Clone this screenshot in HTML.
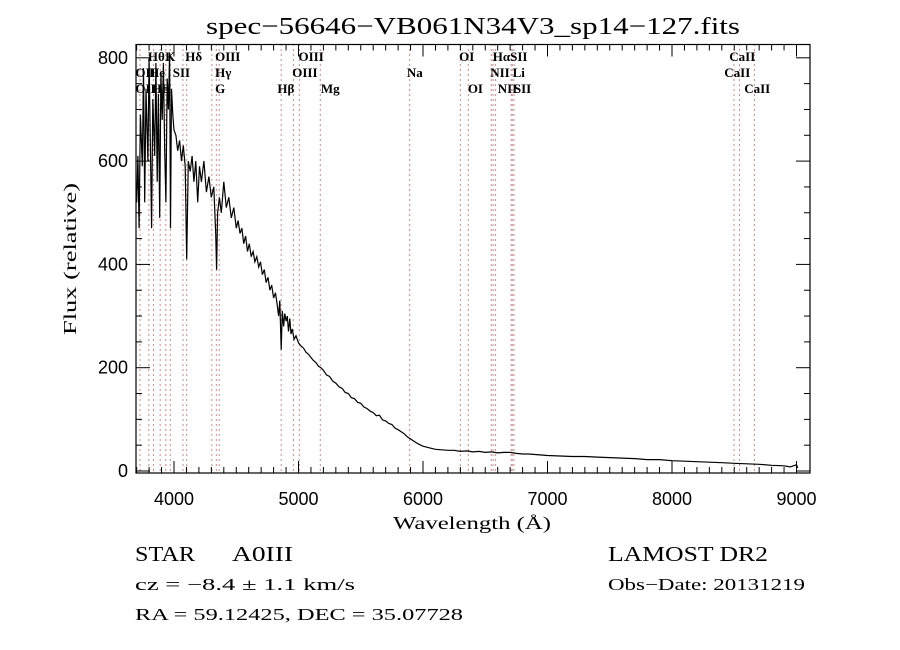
<!DOCTYPE html>
<html><head><meta charset="utf-8"><style>
body{margin:0;background:#fff;}
svg{display:block;}
text{fill:#000;}
.ser{font-family:"Liberation Serif",serif;}
.san{font-family:"Liberation Sans",sans-serif;}
</style></head><body>
<svg id="chart" width="900" height="650" viewBox="0 0 900 650">
<rect width="900" height="650" fill="#fff"/>
<text x="206" y="34" textLength="534" lengthAdjust="spacingAndGlyphs" class="ser" font-size="24">spec−56646−VB061N34V3_sp14−127.fits</text>
<g id="lines"></g>
<g id="labels" class="ser" font-size="13" font-weight="bold"></g>
<g id="ticks"></g>
<path id="spec" fill="none" stroke="#000" stroke-width="1.2"/>
<rect x="136" y="44.5" width="674" height="428.5" fill="none" stroke="#000" stroke-width="1.2"/>
<text x="393" y="529" textLength="158" lengthAdjust="spacingAndGlyphs" class="ser" font-size="18">Wavelength (Å)</text>
<text transform="translate(76,335) rotate(-90)" textLength="152" lengthAdjust="spacingAndGlyphs" class="ser" font-size="18">Flux (relative)</text>
<text x="135" y="561" textLength="60" lengthAdjust="spacingAndGlyphs" class="ser" font-size="21">STAR</text>
<text x="232" y="561" textLength="61" lengthAdjust="spacingAndGlyphs" class="ser" font-size="21">A0III</text>
<text x="135" y="590" textLength="220" lengthAdjust="spacingAndGlyphs" class="ser" font-size="17">cz = −8.4 ± 1.1 km/s</text>
<text x="135" y="620" textLength="328" lengthAdjust="spacingAndGlyphs" class="ser" font-size="17">RA =  59.12425, DEC =  35.07728</text>
<text x="608" y="561" textLength="160" lengthAdjust="spacingAndGlyphs" class="ser" font-size="21">LAMOST DR2</text>
<text x="608" y="590" textLength="197" lengthAdjust="spacingAndGlyphs" class="ser" font-size="17">Obs−Date: 20131219</text>
</svg>
<script>
const wave=[3700,3710,3720,3730,3745,3755,3765,3775,3790,3800,3810,3820,3830,3845,3855,3865,3875,3885,3895,3905,3915,3925,3935,3945,3955,3965,3972,3980,3990,4000,4015,4030,4045,4060,4075,4090,4102,4115,4130,4145,4160,4175,4190,4205,4220,4240,4260,4280,4300,4320,4335,4342,4350,4365,4380,4400,4420,4440,4460,4480,4500,4515,4530,4545,4560,4575,4590,4605,4620,4635,4650,4665,4680,4695,4710,4725,4740,4755,4770,4785,4800,4815,4830,4840,4850,4861,4870,4880,4890,4900,4910,4920,4930,4940,4950,4965,4980,5000,5020,5040,5060,5080,5100,5120,5140,5160,5180,5200,5225,5250,5275,5300,5325,5350,5375,5400,5425,5450,5475,5500,5525,5550,5575,5600,5625,5650,5675,5700,5725,5750,5775,5800,5825,5850,5875,5900,5925,5950,5975,6000,6050,6100,6150,6200,6250,6300,6350,6400,6450,6500,6550,6600,6650,6700,6750,6800,6850,6900,6950,7000,7100,7200,7300,7400,7500,7600,7700,7800,7900,8000,8100,8200,8300,8400,8500,8600,8700,8800,8900,8950,9000,9010];
const flux=[520,610,470,690,590,780,520,740,600,800,640,470,720,610,790,560,730,490,770,680,790,620,520,760,700,810,470,740,690,660,650,620,640,600,630,590,410,600,580,610,560,600,520,590,560,600,540,570,530,550,460,390,500,530,500,560,510,530,490,510,470,485,460,470,440,455,425,440,415,425,405,415,395,405,380,390,365,375,350,360,335,345,320,300,330,235,310,280,305,290,300,270,295,265,275,255,262,248,242,238,230,226,220,214,210,203,200,195,186,183,174,170,163,160,152,150,142,140,133,131,124,121,116,113,107,108,99,97,92,90,83,80,76,72,66,62,58,54,51,48,45,42,41,40,40,38,39,37,38,36,37,35,36,36,34,33,33,32,31,30,29,28,28,27,26,25,24,22,22,20,19,18,17,16,15,14,13,11,10,8,12,6];
const lineWaves=[3727,3798,3835,3889,3934,3970,4072,4102,4304,4340,4363,4861,4959,5007,5175,5893,6300,6364,6548,6563,6583,6708,6717,6731,8498,8542,8662];
const labelText=["Hθ","K","Hδ","OIII","OIII","OI","Hα","SII","CaII","OII","He","SII","Hγ","OIII","Na","NII","Li","CaII","OII","Hε","H","G","Hβ","Mg","OI","NII","SII","CaII"];
const labelWave=[3790,3930,4090,4330,5000,6290,6560,6700,8460,3690,3800,3990,4330,4950,5870,6540,6720,8420,3690,3820,3900,4330,4830,5180,6360,6600,6730,8580];
const labelRow=[0,0,0,0,0,0,0,0,0,1,1,1,1,1,1,1,1,1,2,2,2,2,2,2,2,2,2,2];
const xTicks=[4000,5000,6000,7000,8000,9000];
const yTicks=[0,200,400,600,800];
const X0=136,X1=810,Y0=44.5,Y1=473;
const xs=w=>174+(w-4000)*0.1245;
const ys=f=>471-f*0.5165;
const NS="http://www.w3.org/2000/svg";
function mk(t,a,p){const e=document.createElementNS(NS,t);for(const k in a)e.setAttribute(k,a[k]);p.appendChild(e);return e;}
let d="";wave.forEach((w,i)=>{d+=(i?"L":"M")+xs(w).toFixed(1)+" "+ys(flux[i]).toFixed(1);});
document.getElementById("spec").setAttribute("d",d);
const lg=document.getElementById("lines");
lineWaves.forEach(w=>{const l=mk("line",{x1:xs(w),x2:xs(w),y1:Y0,y2:Y1,stroke:"#8b1a1a","stroke-width":1,"stroke-dasharray":"1 4"},lg);

});
const lb=document.getElementById("labels");
labelText.forEach((t,i)=>{const e=mk("text",{x:xs(labelWave[i]),y:61+labelRow[i]*16},lb);e.textContent=t;

});
const tg=document.getElementById("ticks");
for(let w=3700;w<=9000;w+=100){const x=xs(w);const maj=w%1000===0;const L=maj?12:6;
mk("line",{x1:x,x2:x,y1:Y1,y2:Y1-L,stroke:"#000"},tg);mk("line",{x1:x,x2:x,y1:Y0,y2:Y0+L,stroke:"#000"},tg);}
xTicks.forEach(w=>{const e=mk("text",{x:xs(w),y:505,"text-anchor":"middle","font-size":"18","font-family":"Liberation Sans, sans-serif"},tg);e.textContent=w;

});
for(let f=0;f<=800;f+=50){const y=ys(f);const maj=f%200===0;const L=maj?14:6;
mk("line",{x1:X0,x2:X0+L,y1:y,y2:y,stroke:"#000"},tg);mk("line",{x1:X1,x2:X1-L,y1:y,y2:y,stroke:"#000"},tg);}
yTicks.forEach(f=>{const e=mk("text",{x:128,y:ys(f)+6,"text-anchor":"end","font-size":"18","font-family":"Liberation Sans, sans-serif"},tg);e.textContent=f;

});
</script>
</body></html>
